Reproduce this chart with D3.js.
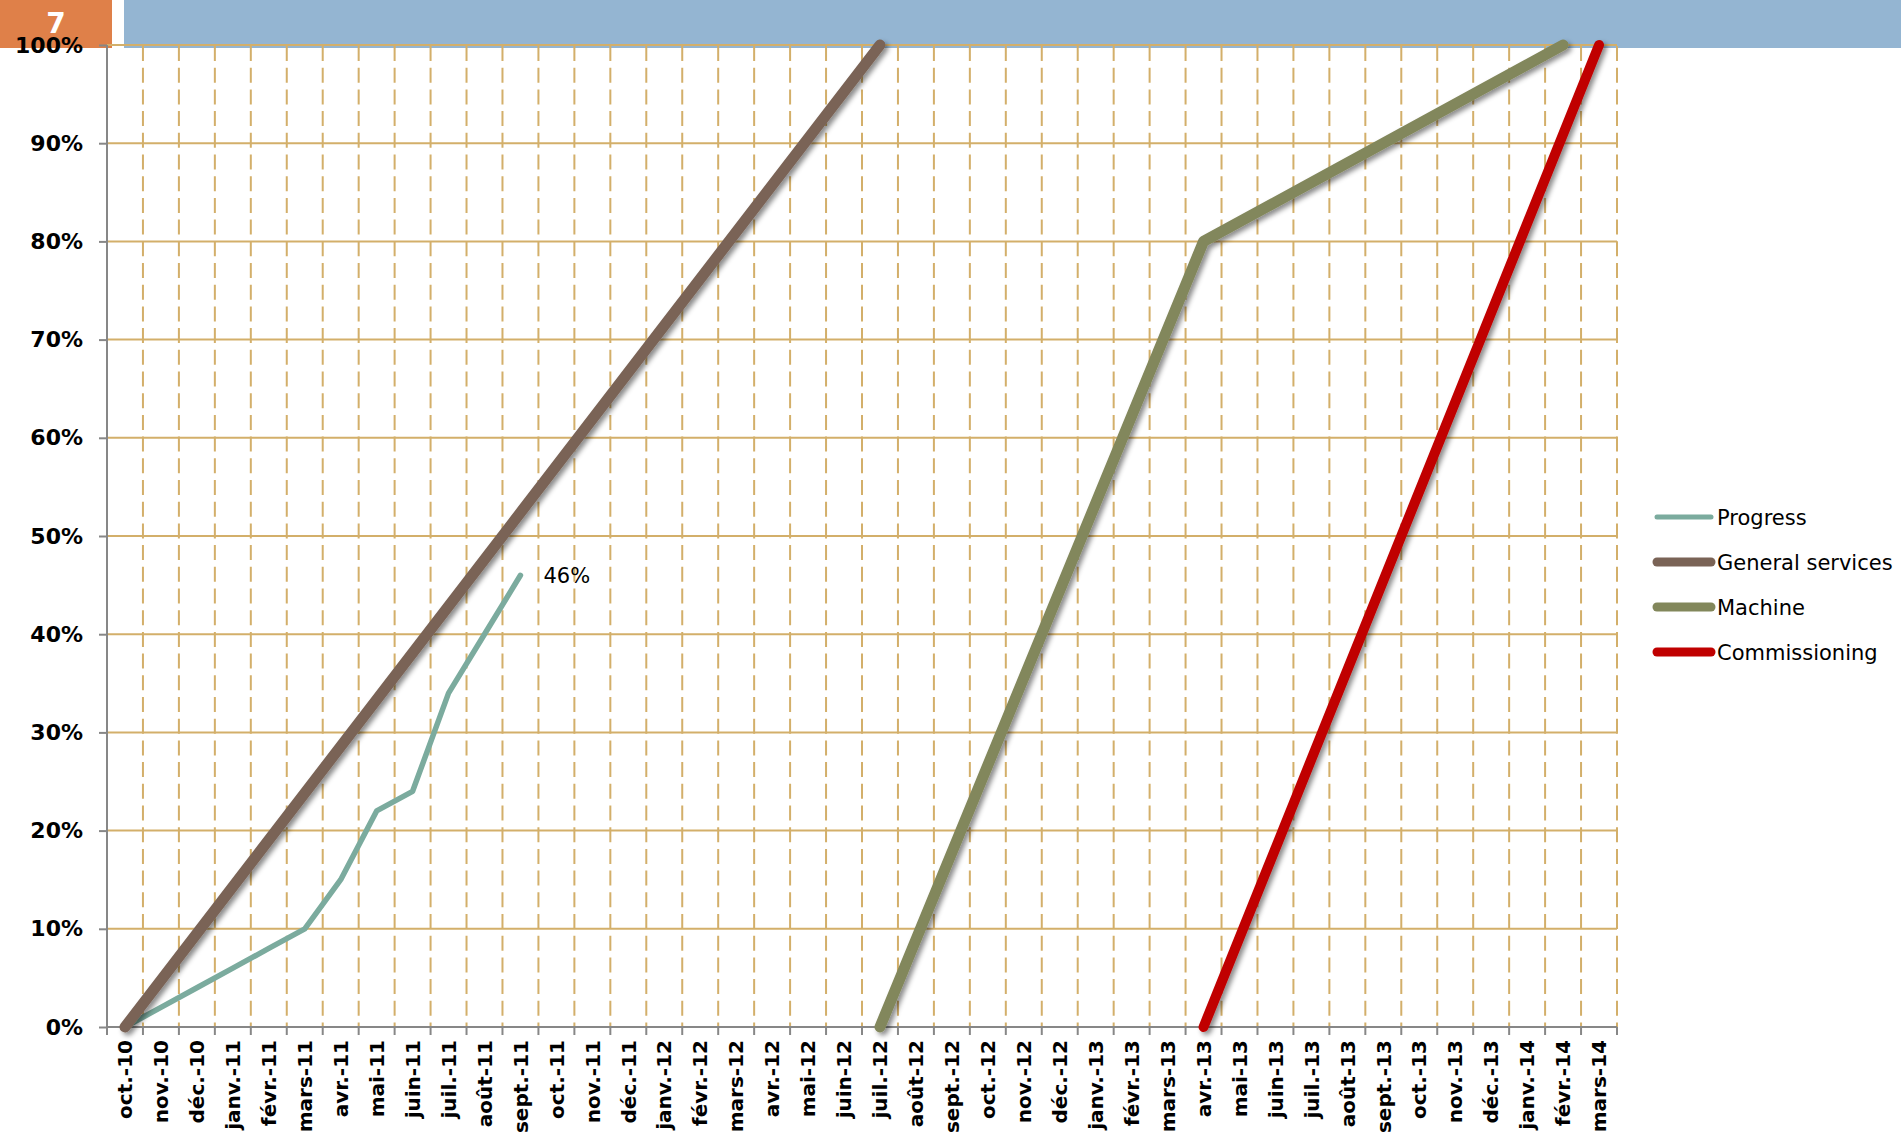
<!DOCTYPE html>
<html>
<head>
<meta charset="utf-8">
<script src="https://cdn.jsdelivr.net/npm/d3@7/dist/d3.min.js"></script>
<style>
  html, body { margin: 0; padding: 0; background: #fff; }
  svg { display: block; }
  .ylab text { font-family: "DejaVu Sans", sans-serif; font-weight: bold; font-size: 22px; fill: #000; }
  .xlab text { font-family: "DejaVu Sans", sans-serif; font-weight: bold; font-size: 20px; fill: #000; }
  .legend text { font-family: "DejaVu Sans", sans-serif; font-size: 21px; fill: #000; }
</style>
</head>
<body>
<svg width="1901" height="1137"></svg>
<script>
// months on the category axis
const months = [
  'oct.-10', 'nov.-10', 'déc.-10', 'janv.-11', 'févr.-11', 'mars-11', 'avr.-11', 'mai-11',
  'juin-11', 'juil.-11', 'août-11', 'sept.-11', 'oct.-11', 'nov.-11', 'déc.-11', 'janv.-12',
  'févr.-12', 'mars-12', 'avr.-12', 'mai-12', 'juin-12', 'juil.-12', 'août-12', 'sept.-12',
  'oct.-12', 'nov.-12', 'déc.-12', 'janv.-13', 'févr.-13', 'mars-13', 'avr.-13', 'mai-13',
  'juin-13', 'juil.-13', 'août-13', 'sept.-13', 'oct.-13', 'nov.-13', 'déc.-13', 'janv.-14',
  'févr.-14', 'mars-14'
];

// series values (percent), only the months that have a point
const progress = [
  ['oct.-10', 0], ['nov.-10', 2], ['déc.-10', 4], ['janv.-11', 6], ['févr.-11', 8],
  ['mars-11', 10], ['avr.-11', 15], ['mai-11', 22], ['juin-11', 24], ['juil.-11', 34],
  ['août-11', 40], ['sept.-11', 46]
];
const generalServices = [['oct.-10', 0], ['juil.-12', 100]];
const machine = [['juil.-12', 0], ['avr.-13', 80], ['févr.-14', 100]];
const commissioning = [['avr.-13', 0], ['mars-14', 100]];

const yTicks = [0, 10, 20, 30, 40, 50, 60, 70, 80, 90, 100];

const series = [
  { name: 'Progress', data: progress, color: '#7BAB9E', width: 5.5, shadow: false },
  { name: 'General services', data: generalServices, color: '#7A6356', width: 11, shadow: true },
  { name: 'Machine', data: machine, color: '#82875B', width: 11, shadow: true },
  { name: 'Commissioning', data: commissioning, color: '#C00000', width: 10, shadow: true }
];

const svg = d3.select('svg');
const gridColor = '#D3AF6A';
const axisColor = '#878787';

const plotLeft = 107, plotRight = 1617, plotTop = 45, plotBottom = 1027;

// header bars
svg.append('rect').attr('x', 0).attr('y', 0).attr('width', 112).attr('height', 48).attr('fill', '#DF8049');
svg.append('rect').attr('x', 124).attr('y', 0).attr('width', 1777).attr('height', 48).attr('fill', '#94B5D2');
svg.append('text').attr('x', 56).attr('y', 33).attr('text-anchor', 'middle')
  .style('font-family', '"DejaVu Sans", sans-serif').style('font-weight', 'bold')
  .style('font-size', '28px').attr('fill', '#fff').text('7');

const defs = svg.append('defs');
const f = defs.append('filter').attr('id', 'shadow')
  .attr('x', '-20%').attr('y', '-20%').attr('width', '140%').attr('height', '140%');
f.append('feDropShadow').attr('dx', 3).attr('dy', 3).attr('stdDeviation', 2.5)
  .attr('flood-color', '#000').attr('flood-opacity', 0.45);

const x = d3.scaleBand().domain(months).range([plotLeft, plotRight]).paddingInner(0).paddingOuter(0);
const y = d3.scaleLinear().domain([0, 100]).range([plotBottom, plotTop]);
const bw = x.bandwidth();

// vertical dashed gridlines at band boundaries
svg.append('g').selectAll('line')
  .data(months)
  .enter()
  .append('line')
  .attr('x1', d => x(d) + bw)
  .attr('x2', d => x(d) + bw)
  .attr('y1', plotTop)
  .attr('y2', plotBottom)
  .attr('stroke', gridColor)
  .attr('stroke-width', 2)
  .attr('stroke-dasharray', '15,6.7')
  .attr('stroke-dashoffset', -1);

// horizontal gridlines
svg.append('g').selectAll('line')
  .data(yTicks.filter(d => d > 0))
  .enter()
  .append('line')
  .attr('x1', plotLeft)
  .attr('x2', plotRight)
  .attr('y1', d => y(d))
  .attr('y2', d => y(d))
  .attr('stroke', gridColor)
  .attr('stroke-width', 2);

// y axis
const yAxis = svg.append('g')
  .attr('class', 'ylab')
  .attr('transform', `translate(${plotLeft},0)`)
  .call(d3.axisLeft(y).tickValues(yTicks).tickSize(8).tickPadding(16).tickFormat(d => d + '%'));
yAxis.select('.domain').attr('stroke', axisColor).attr('stroke-width', 2).attr('d', `M0,${plotTop}V${plotBottom}`);
yAxis.selectAll('.tick line').attr('stroke', axisColor).attr('stroke-width', 2);

// x axis
const xAxis = svg.append('g')
  .attr('class', 'xlab')
  .attr('transform', `translate(0,${plotBottom})`)
  .call(d3.axisBottom(x).tickSize(0).tickPadding(0));
xAxis.select('.domain').attr('stroke', axisColor).attr('stroke-width', 2).attr('d', `M${plotLeft},0H${plotRight}`);
xAxis.selectAll('.tick text')
  .attr('transform', 'rotate(-90)')
  .attr('x', -13)
  .attr('y', 0)
  .attr('dy', '0.36em')
  .attr('text-anchor', 'end');

// x tick marks at band boundaries
svg.append('g').selectAll('line')
  .data([plotLeft].concat(months.map(m => x(m) + bw)))
  .enter()
  .append('line')
  .attr('x1', d => d)
  .attr('x2', d => d)
  .attr('y1', plotBottom)
  .attr('y2', plotBottom + 8)
  .attr('stroke', axisColor)
  .attr('stroke-width', 2);

const line = d3.line()
  .x(d => x(d[0]) + bw / 2)
  .y(d => y(d[1]));

// drawn in series order, later ones on top
svg.append('g').selectAll('path')
  .data(series)
  .enter()
  .append('path')
  .attr('d', d => line(d.data))
  .attr('fill', 'none')
  .attr('stroke', d => d.color)
  .attr('stroke-width', d => d.width)
  .attr('stroke-linejoin', 'round')
  .attr('stroke-linecap', 'round')
  .attr('filter', d => d.shadow ? 'url(#shadow)' : null);

// last progress label
const last = progress[progress.length - 1];
svg.append('text')
  .attr('x', x(last[0]) + bw / 2 + 23)
  .attr('y', y(last[1]))
  .attr('dy', '0.36em')
  .style('font-family', '"DejaVu Sans", sans-serif')
  .style('font-size', '21px')
  .text(last[1] + '%');

// legend
const legend = svg.append('g').attr('class', 'legend');
const rows = legend.selectAll('g')
  .data(series)
  .enter()
  .append('g')
  .attr('transform', (d, i) => `translate(1655,${517 + i * 45})`);
rows.append('line')
  .attr('x1', 2).attr('x2', 56)
  .attr('stroke', d => d.color)
  .attr('stroke-width', d => d.shadow ? 9 : 5)
  .attr('stroke-linecap', 'round');
rows.append('text')
  .attr('x', 62)
  .attr('dy', '0.36em')
  .text(d => d.name);
</script>
</body>
</html>
